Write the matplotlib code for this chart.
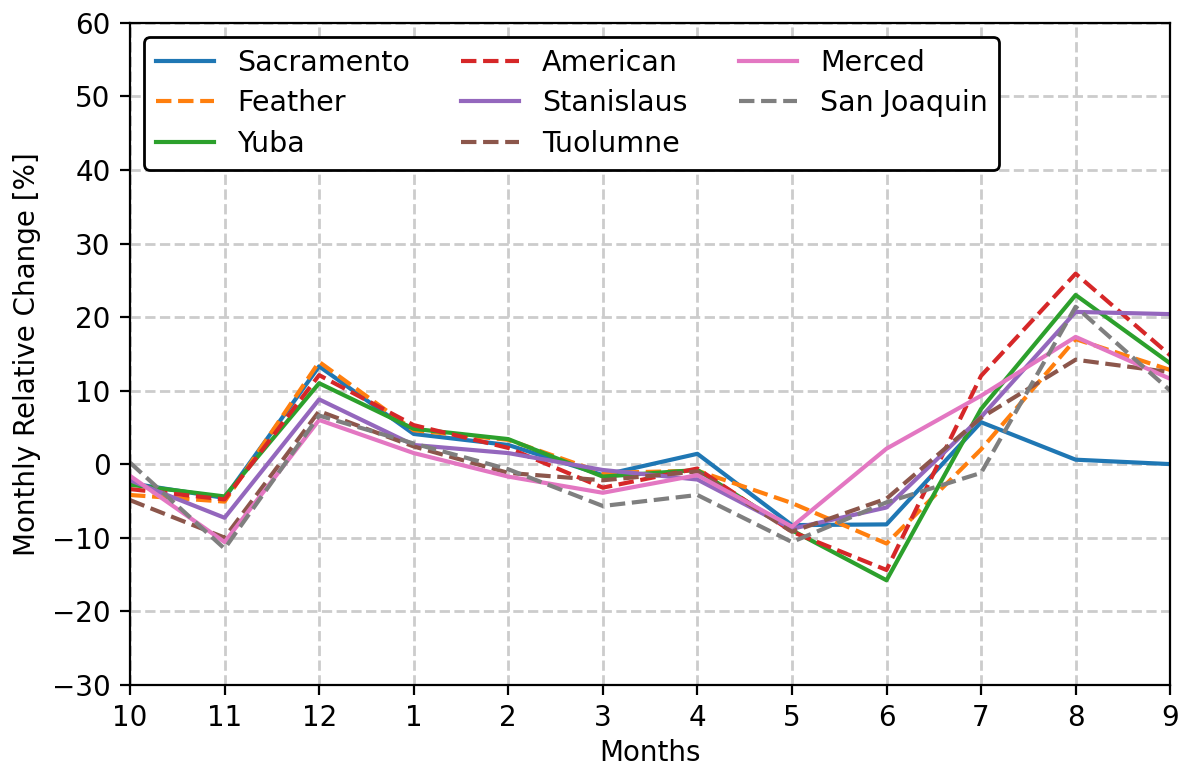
import matplotlib
matplotlib.use("Agg")
import matplotlib.pyplot as plt

months = ["10", "11", "12", "1", "2", "3", "4", "5", "6", "7", "8", "9"]

sacramento = [-2.6, -4.6, 13.3, 4.1, 2.6, -1.5, 1.4, -8.3, -8.2, 5.7, 0.6, 0.0]
feather = [-4.2, -5.1, 13.9, 4.6, 3.3, -1.2, -0.9, -5.3, -10.8, 2.0, 17.0, 12.8]
yuba = [-2.8, -4.4, 11.0, 4.8, 3.4, -1.7, -0.8, -9.0, -15.8, 7.5, 23.0, 13.7]
american = [-3.4, -4.8, 12.1, 5.3, 2.2, -3.2, -0.6, -9.2, -14.4, 12.0, 25.9, 14.8]
stanislaus = [-2.2, -7.3, 8.8, 2.6, 1.5, -0.8, -2.1, -8.8, -5.9, 6.4, 20.7, 20.4]
tuolumne = [-4.9, -10.0, 7.2, 2.4, -1.2, -2.2, -1.0, -9.2, -4.7, 6.3, 14.2, 12.5]
merced = [-1.6, -10.6, 6.0, 1.5, -1.7, -3.9, -1.5, -8.5, 2.1, 9.3, 17.3, 11.6]
san_joaquin = [0.2, -11.5, 6.6, 2.8, -0.7, -5.7, -4.2, -10.6, -5.2, -1.2, 21.4, 10.0]

series = [
    ("Sacramento", sacramento, "-"),
    ("Feather", feather, "--"),
    ("Yuba", yuba, "-"),
    ("American", american, "--"),
    ("Stanislaus", stanislaus, "-"),
    ("Tuolumne", tuolumne, "--"),
    ("Merced", merced, "-"),
    ("San Joaquin", san_joaquin, "--"),
]

DPI = 200
fig, ax = plt.subplots(figsize=(1182 / DPI, 765 / DPI), dpi=DPI)
fig.subplots_adjust(left=0.110, right=0.990, top=0.970, bottom=0.105)

x = list(range(len(months)))
for name, vals, ls in series:
    ax.plot(x, vals, linestyle=ls, linewidth=1.5, label=name)

ax.set_xticks(x)
ax.set_xticklabels(months)
ax.set_xlim(0, len(months) - 1)
ax.set_ylim(-30, 60)
ax.set_yticks(range(-30, 61, 10))
ax.grid(True, linestyle="--", color="0.8", linewidth=1.0)
ax.set_xlabel("Months", labelpad=2.5)
ax.set_ylabel("Monthly Relative Change [%]")

leg = ax.legend(loc="upper left", ncol=3, framealpha=1, edgecolor="black",
                fontsize=10.25, labelspacing=0.45, handlelength=2.05,
                columnspacing=1.8)

fig.savefig("out.png", dpi=DPI)
